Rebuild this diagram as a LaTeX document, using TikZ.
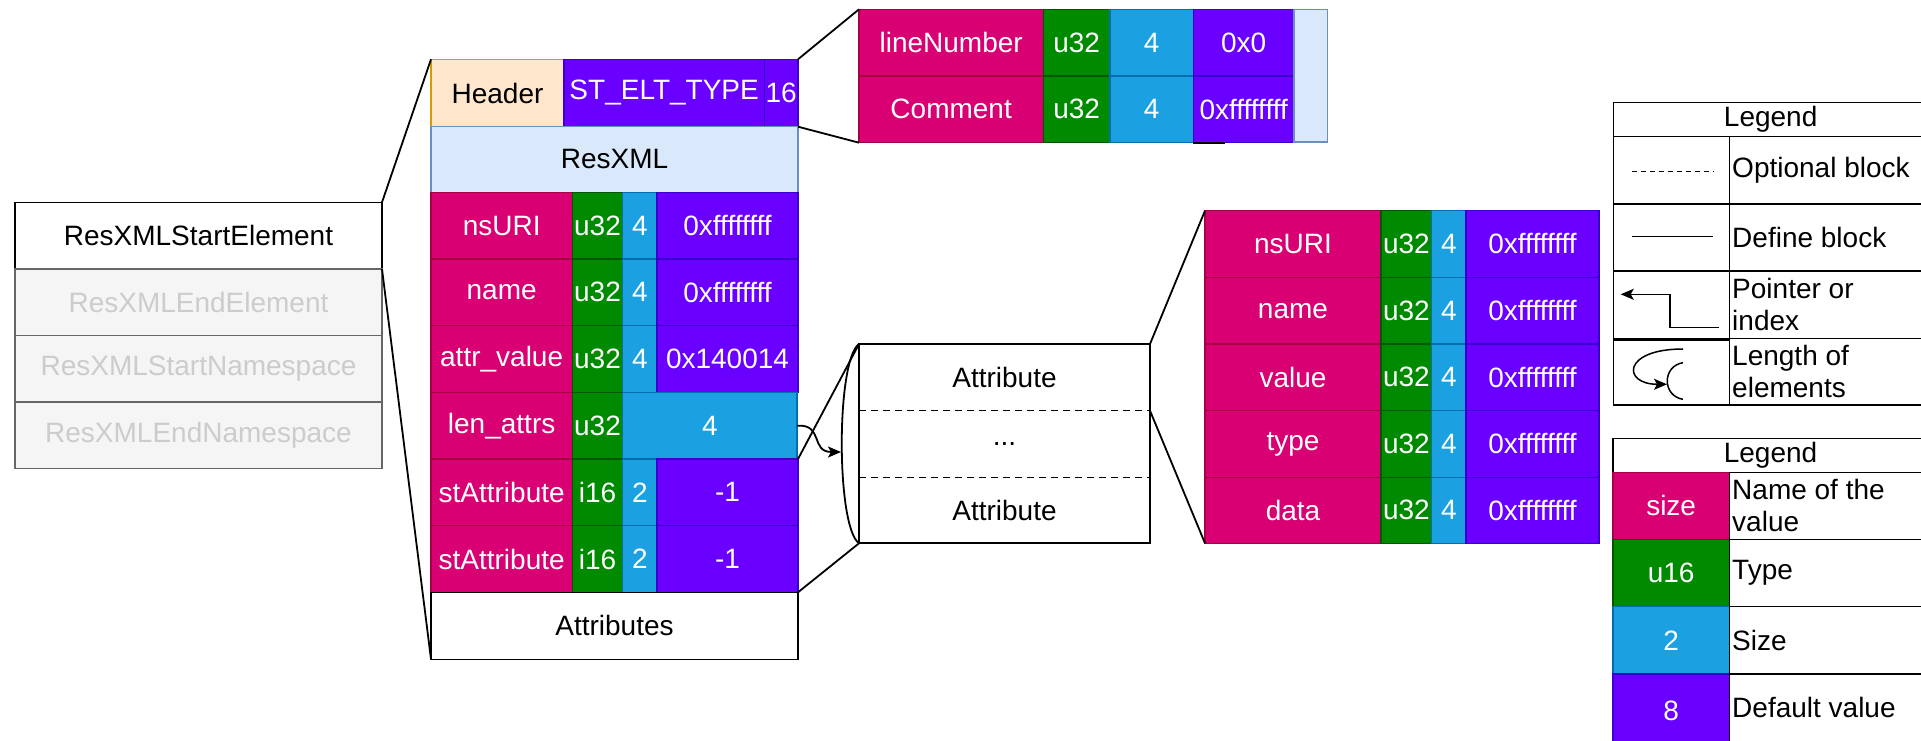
\documentclass[tikz,border=0pt]{standalone}
\usepackage{fontspec}
\setmainfont{Liberation Sans}
\usetikzlibrary{arrows.meta}
\definecolor{pkF}{HTML}{D80073}\definecolor{pkS}{HTML}{A50040}
\definecolor{grF}{HTML}{008A00}\definecolor{grS}{HTML}{005700}
\definecolor{blF}{HTML}{1BA1E2}\definecolor{blS}{HTML}{006EAF}
\definecolor{puF}{HTML}{6A00FF}\definecolor{puS}{HTML}{3700CC}
\definecolor{orF}{HTML}{FFE6CC}\definecolor{orS}{HTML}{D79B00}
\definecolor{lbF}{HTML}{DAE8FC}\definecolor{lbS}{HTML}{6C8EBF}
\definecolor{gyF}{HTML}{F5F5F5}\definecolor{gyS}{HTML}{666666}\definecolor{gyT}{HTML}{CCCCCC}
\newcommand\mycell[7]{%
  \node[cellbase,#6,minimum width={((#4)-(#2))*1pt},minimum height={((#5)-(#3))*1pt}] (#1) at ({((#2)+(#4))/2},{((#3)+(#5))/2}) {#7};}
\begin{document}
\begin{tikzpicture}[x=1pt,y=-1pt,font=\fontsize{28}{32}\selectfont,
  cellbase/.style={inner sep=0pt,outer sep=0pt,draw,line width=1.5pt,align=center},
  pk/.style={fill=pkF,draw=pkS,text=white},
  gr/.style={fill=grF,draw=grS,text=white},
  bl/.style={fill=blF,draw=blS,text=white},
  pu/.style={fill=puF,draw=puS,text=white},
  hd/.style={fill=orF,draw=orS},
  lb/.style={fill=lbF,draw=lbS},
  gy/.style={fill=gyF,draw=gyS,text=gyT},
  wh/.style={fill=white,draw=black},
  nofr/.style={draw=none,fill=none},
  conn/.style={line width=1.8pt,black},
  optline/.style={line width=1.5pt,dash pattern=on 7pt off 5pt},
  tip/.style={-{Stealth[length=13pt,width=11pt,inset=3pt]}},
  ltext/.style={anchor=west,align=left,inner sep=0pt}]
\useasboundingbox (0,0) rectangle (1921,741);

% left list
\mycell{lstart}{15}{202.3}{382}{269}{wh}{ResXMLStartElement}
\mycell{lend}{15}{269}{382}{335.3}{gy}{ResXMLEndElement}
\mycell{lsns}{15}{335.3}{382}{402}{gy}{ResXMLStartNamespace}
\mycell{lens}{15}{402}{382}{468.7}{gy}{ResXMLEndNamespace}

% main block
\mycell{hdr}{431}{59.3}{564}{126.7}{hd}{Header}
\mycell{hdtype}{564}{59.3}{764.3}{126.7}{pu}{ST\_ELT\_TYPE}
\mycell{hdsize}{764.3}{59.3}{798}{126.7}{pu}{16}
\mycell{resxml}{431}{126.7}{798}{192.3}{lb}{ResXML}
\mycell{m1n}{431}{192.3}{572.3}{259}{pk}{nsURI}
\mycell{m1t}{572.3}{192.3}{622.7}{259}{gr}{u32}
\mycell{m1s}{622.7}{192.3}{657}{259}{bl}{4}
\mycell{m1v}{657}{192.3}{798}{259}{pu}{0xffffffff}
\mycell{m2n}{431}{259}{572.3}{325.7}{pk}{name}
\mycell{m2t}{572.3}{259}{622.7}{325.7}{gr}{u32}
\mycell{m2s}{622.7}{259}{657}{325.7}{bl}{4}
\mycell{m2v}{657}{259}{798}{325.7}{pu}{0xffffffff}
\mycell{m3n}{431}{325.7}{572.3}{392.3}{pk}{attr\_value}
\mycell{m3t}{572.3}{325.7}{622.7}{392.3}{gr}{u32}
\mycell{m3s}{622.7}{325.7}{657}{392.3}{bl}{4}
\mycell{m3v}{657}{325.7}{798}{392.3}{pu}{0x140014}
\mycell{m4n}{431}{392.3}{572.3}{459}{pk}{len\_attrs}
\mycell{m4t}{572.3}{392.3}{622.7}{459}{gr}{u32}
\mycell{m4s}{622.7}{392.3}{797}{459}{bl}{4}
\mycell{m5n}{431}{459}{572.3}{525.7}{pk}{stAttribute}
\mycell{m5t}{572.3}{459}{622.7}{525.7}{gr}{i16}
\mycell{m5s}{622.7}{459}{657}{525.7}{bl}{2}
\mycell{m5v}{657}{459}{798}{525.7}{pu}{-1}
\mycell{m6n}{431}{525.7}{572.3}{592.3}{pk}{stAttribute}
\mycell{m6t}{572.3}{525.7}{622.7}{592.3}{gr}{i16}
\mycell{m6s}{622.7}{525.7}{657}{592.3}{bl}{2}
\mycell{m6v}{657}{525.7}{798}{592.3}{pu}{-1}
\mycell{attrs}{431}{592.3}{798}{659.3}{wh}{Attributes}

% top detail
\mycell{t1n}{859}{9.3}{1043.3}{76}{pk}{lineNumber}
\mycell{t1t}{1043.3}{9.3}{1110}{76}{gr}{u32}
\mycell{t1s}{1110}{9.3}{1193.3}{76}{bl}{4}
\mycell{t1v}{1193.3}{9.3}{1294}{76}{pu}{0x0}
\mycell{t2n}{859}{76}{1043.3}{142.7}{pk}{Comment}
\mycell{t2t}{1043.3}{76}{1110}{142.7}{gr}{u32}
\mycell{t2s}{1110}{76}{1193.3}{142.7}{bl}{4}
\mycell{t2v}{1193.3}{76}{1294}{142.7}{pu}{0xffffffff}
\mycell{tcol}{1294}{9.3}{1327.3}{142}{lb}{}
\draw[line width=1.8pt] (t2v.south west) -- ++(32,0);

% attribute box
\mycell{a1}{859}{344}{1150}{410.7}{nofr}{Attribute}
\mycell{a2}{859}{410.7}{1150}{477.3}{nofr}{...}
\mycell{a3}{859}{477.3}{1150}{543.3}{nofr}{Attribute}
\draw[line width=1.8pt] (a1.north west) rectangle (a3.south east);
\draw[optline] (a2.north west) -- (a2.north east);
\draw[optline] (a2.south west) -- (a2.south east);

% attribute detail
\mycell{d1n}{1205}{210.7}{1381}{277.3}{pk}{nsURI}
\mycell{d1t}{1381}{210.7}{1431.7}{277.3}{gr}{u32}
\mycell{d1s}{1431.7}{210.7}{1466}{277.3}{bl}{4}
\mycell{d1v}{1466}{210.7}{1599}{277.3}{pu}{0xffffffff}
\mycell{d2n}{1205}{277.3}{1381}{344}{pk}{name}
\mycell{d2t}{1381}{277.3}{1431.7}{344}{gr}{u32}
\mycell{d2s}{1431.7}{277.3}{1466}{344}{bl}{4}
\mycell{d2v}{1466}{277.3}{1599}{344}{pu}{0xffffffff}
\mycell{d3n}{1205}{344}{1381}{410.7}{pk}{value}
\mycell{d3t}{1381}{344}{1431.7}{410.7}{gr}{u32}
\mycell{d3s}{1431.7}{344}{1466}{410.7}{bl}{4}
\mycell{d3v}{1466}{344}{1599}{410.7}{pu}{0xffffffff}
\mycell{d4n}{1205}{410.7}{1381}{477.3}{pk}{type}
\mycell{d4t}{1381}{410.7}{1431.7}{477.3}{gr}{u32}
\mycell{d4s}{1431.7}{410.7}{1466}{477.3}{bl}{4}
\mycell{d4v}{1466}{410.7}{1599}{477.3}{pu}{0xffffffff}
\mycell{d5n}{1205}{477.3}{1381}{543.3}{pk}{data}
\mycell{d5t}{1381}{477.3}{1431.7}{543.3}{gr}{u32}
\mycell{d5s}{1431.7}{477.3}{1466}{543.3}{bl}{4}
\mycell{d5v}{1466}{477.3}{1599}{543.3}{pu}{0xffffffff}

% connectors (zoom lines)
\draw[conn] (lstart.north east) -- (hdr.north west);
\draw[conn] (lstart.south east) -- (attrs.south west);
\draw[conn] (hdsize.north east) -- (t1n.north west);
\draw[conn] (hdsize.south east) -- (t2n.south west);
\draw[conn] (m5v.north east) -- (a1.north west);
\draw[conn] (m6v.south east) -- (a3.south west);
\draw[conn] (a1.north east) -- (d1n.north west);
\draw[conn] (a2.north east) -- (d5n.south west);
% length arc and arrow
\draw[conn] (a1.north west) .. controls (836,360) and (836,527) .. (a3.south west);
\coordinate (arctip) at (841,452);
\draw[conn,tip] (m4s.east) .. controls (824,424) and (810,452) .. (arctip);

% legend 1
\mycell{lg1}{1613.3}{102.7}{1928}{136.7}{wh}{Legend}
\mycell{lg1a}{1613.3}{136.7}{1729.3}{204}{wh}{}
\mycell{lg1b}{1729.3}{136.7}{1928}{204}{wh}{}
\mycell{lg1c}{1613.3}{204}{1729.3}{271}{wh}{}
\mycell{lg1d}{1729.3}{204}{1928}{271}{wh}{}
\mycell{lg1e}{1613.3}{271}{1729.3}{338.3}{wh}{}
\mycell{lg1f}{1729.3}{271}{1928}{338.3}{wh}{}
\mycell{lg1g}{1613.3}{340}{1729.3}{405}{wh}{}
\mycell{lg1h}{1729.3}{338.3}{1928}{405}{wh}{}
\node[ltext] (lt1) at (1732,170.3) {Optional block};
\node[ltext] (lt2) at (1732,237.5) {Define block};
\node[ltext] (lt3) at (1732,304.6) {Pointer or\\index};
\node[ltext] (lt4) at (1732,371.6) {Length of\\elements};
\coordinate (o1) at (1631.7,171.7); \coordinate (o2) at (1713.3,171.7);
\draw[line width=1.3pt,dash pattern=on 5pt off 4pt] (o1) -- (o2);
\coordinate (s1) at (1631.7,236.7); \coordinate (s2) at (1713.3,236.7);
\draw[line width=1.5pt] (s1) -- (s2);
\coordinate (p1) at (1719,327.7); \coordinate (p2) at (1620.7,294.3);
\draw[line width=1.5pt,tip] (p1) -- (1670,327.7) -- (1670,294.3) -- (p2);
\coordinate (c1) at (1683,349); \coordinate (c2) at (1667,384.3);
\draw[line width=1.5pt,tip] (c1) .. controls (1622,349) and (1622,384.3) .. (c2);
\coordinate (b1) at (1683,362.7); \coordinate (b2) at (1683,399.3);
\draw[line width=1.5pt] (b1) .. controls (1662,366) and (1662,396) .. (b2);

% legend 2
\mycell{lg2}{1613}{438.3}{1928}{472.3}{wh}{Legend}
\mycell{lg2a}{1613}{472.3}{1729.3}{539.3}{pk}{size}
\mycell{lg2b}{1729.3}{472.3}{1928}{539.3}{wh}{}
\mycell{lg2c}{1613}{539.3}{1729.3}{606.7}{gr}{u16}
\mycell{lg2d}{1729.3}{539.3}{1928}{606.7}{wh}{}
\mycell{lg2e}{1613}{606.7}{1729.3}{674}{bl}{2}
\mycell{lg2f}{1729.3}{606.7}{1928}{674}{wh}{}
\mycell{lg2g}{1613}{674}{1729.3}{748}{pu}{8}
\mycell{lg2h}{1729.3}{674}{1928}{748}{wh}{}
\node[ltext] (lu1) at (1732,505.8) {Name of the\\value};
\node[ltext] (lu2) at (1732,573) {Type};
\node[ltext] (lu3) at (1732,640.3) {Size};
\node[ltext] (lu4) at (1732,707.5) {Default value};
\end{tikzpicture}
\end{document}
